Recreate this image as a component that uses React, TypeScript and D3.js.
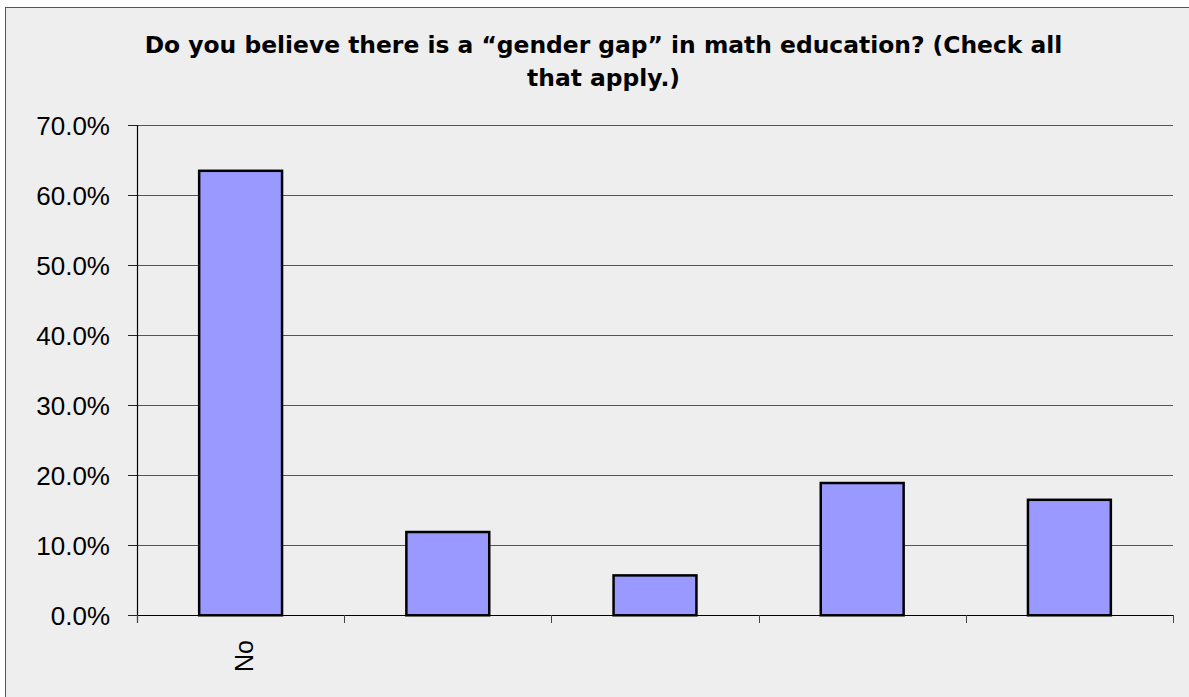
import React from "react";
import * as d3 from "d3";

const title = [
  "Do you believe there is a \u201cgender gap\u201d in math education? (Check all",
  "that apply.)",
];
const categories = ["No", "", "", "", ""];
const keys = ["c1", "c2", "c3", "c4", "c5"];
const values = [0.635, 0.119, 0.057, 0.189, 0.165];
const yTicks = [0, 0.1, 0.2, 0.3, 0.4, 0.5, 0.6, 0.7];

const W = 1189;
const H = 697;
const plot = { left: 137, right: 1173, top: 125.3, bottom: 615.3 };

export default function App() {
  const x = d3
    .scaleBand<string>()
    .domain(keys)
    .range([plot.left, plot.right])
    .paddingInner(0.6)
    .paddingOuter(0.3);
  const xBand = d3.scaleBand<string>().domain(keys).range([plot.left, plot.right]);
  const y = d3.scaleLinear().domain([0, 0.7]).range([plot.bottom, plot.top]);
  const fmt = d3.format(".1%");
  const font = "'Liberation Sans', Arial, sans-serif";
  const titleFont = "'DejaVu Sans', Verdana, sans-serif";

  const boundaries = d3.range(keys.length + 1).map((i) => plot.left + i * xBand.step());

  return (
    <svg
      width={W}
      height={H}
      style={{ position: "absolute", left: 0, top: 0, background: "#ffffff" }}
    >
      <rect x={5.5} y={7.5} width={1196} height={720} fill="#eeeeee" stroke="#555" strokeWidth={1} />
      {title.map((t, i) => (
        <text
          key={i}
          x={603.5}
          y={53 + i * 33}
          textAnchor="middle"
          fontFamily={titleFont}
          fontWeight="bold"
          fontSize={23.4}
          fill="#000"
        >
          {t}
        </text>
      ))}
      {yTicks.map((t) => (
        <g key={t}>
          {t > 0 && (
            <line x1={plot.left} x2={plot.right} y1={Math.round(y(t)) + 0.5} y2={Math.round(y(t)) + 0.5} stroke="#555" strokeWidth={1} />
          )}
          <line x1={128} x2={plot.left} y1={Math.round(y(t)) + 0.5} y2={Math.round(y(t)) + 0.5} stroke="#222" strokeWidth={1} />
          <text
            x={110}
            y={y(t) + 10}
            textAnchor="end"
            fontFamily={font}
            fontSize={26}
            fill="#000"
          >
            {fmt(t)}
          </text>
        </g>
      ))}
      {values.map((v, i) => (
        <rect
          key={keys[i]}
          x={x(keys[i])!}
          y={y(v)}
          width={x.bandwidth()}
          height={plot.bottom - y(v)}
          fill="#9999ff"
          stroke="#000"
          strokeWidth={2.5}
        />
      ))}
      <line x1={plot.left} x2={plot.right} y1={615.5} y2={615.5} stroke="#000" strokeWidth={1.2} />
      <line x1={137.5} x2={137.5} y1={plot.top} y2={623} stroke="#000" strokeWidth={1.2} />
      {boundaries.map((b, i) => (
        <line key={i} x1={Math.round(b) + 0.5} x2={Math.round(b) + 0.5} y1={615} y2={623} stroke="#444" strokeWidth={1} />
      ))}
      {categories.map((c, i) => {
        const cx = xBand(keys[i])! + xBand.bandwidth() / 2 + 12;
        return (
          <text
            key={i}
            transform={`translate(${cx},640) rotate(-90)`}
            textAnchor="end"
            fontFamily={font}
            fontSize={25}
            fill="#000"
          >
            {c}
          </text>
        );
      })}
    </svg>
  );
}
